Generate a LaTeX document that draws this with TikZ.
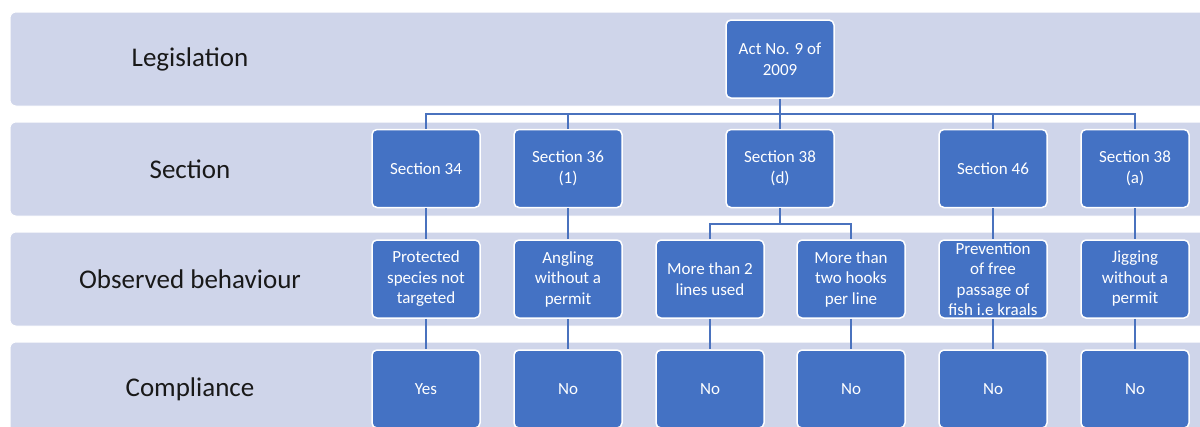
\documentclass[tikz,border=0pt]{standalone}
\usepackage{fontspec}
\setmainfont{Carlito}
\definecolor{bandc}{HTML}{CFD5EA}
\definecolor{boxc}{HTML}{4472C4}
\definecolor{linec}{HTML}{4A72BE}
\begin{document}
\begin{tikzpicture}[x=1pt,y=-1pt,
  band/.style={fill=bandc,draw=white,line width=1pt,rounded corners=6pt},
  rowlabel/.style={text=black!90,font=\fontsize{27}{32}\selectfont,inner sep=0pt},
  boxn/.style={rectangle,rounded corners=5pt,fill=boxc,draw=white,line width=1.5pt,
    minimum width=108pt,minimum height=78pt,inner sep=0pt,text=white,align=center,
    font=\fontsize{17}{20.5}\selectfont},
  conn/.style={draw=linec,line width=1.6pt}]
\useasboundingbox (0,0) rectangle (1200,426);
\begin{scope}
\clip (0,0) rectangle (1200,426);
% bands
\draw[band] (10,12) rectangle (1220,106);
\draw[band] (10,122) rectangle (1220,216);
\draw[band] (10,232) rectangle (1220,326);
\draw[band] (10,342) rectangle (1220,440);
% row labels
\node[rowlabel] (lleg) at (190,59) {Legislation};
\node[rowlabel] (lsec) at (190,169) {Section};
\node[rowlabel] (lobs) at (190,279) {Observed behaviour};
\node[rowlabel] (lcom) at (190,389) {Compliance};
% connectors coordinates
\coordinate (bus) at (780,114);
\coordinate (bus2) at (780,224);
% nodes
\node[boxn] (act) at (780,59) {Act No. 9 of\\2009};
\node[boxn] (s34) at (426,168.5) {Section 34};
\node[boxn] (s36) at (568,168.5) {Section 36\\(1)};
\node[boxn] (s38d) at (780,168.5) {Section 38\\(d)};
\node[boxn] (s46) at (993,168.5) {Section 46};
\node[boxn] (s38a) at (1135,168.5) {Section 38\\(a)};
\node[boxn] (b1) at (426,279) {Protected\\species not\\targeted};
\node[boxn] (b2) at (568,279) {Angling\\without a\\permit};
\node[boxn] (b3) at (710,279) {More than 2\\lines used};
\node[boxn] (b4) at (851,279) {More than\\two hooks\\per line};
\node[boxn] (b5) at (993,279) {Prevention\\of free\\passage of\\fish i.e kraals};
\node[boxn] (b6) at (1135,279) {Jigging\\without a\\permit};
\node[boxn] (c1) at (426,389) {Yes};
\node[boxn] (c2) at (568,389) {No};
\node[boxn] (c3) at (710,389) {No};
\node[boxn] (c4) at (851,389) {No};
\node[boxn] (c5) at (993,389) {No};
\node[boxn] (c6) at (1135,389) {No};
% connectors
\draw[conn] (act.south) -- (bus) -| (s34.north);
\draw[conn] (bus) -| (s36.north);
\draw[conn] (bus) -- (s38d.north);
\draw[conn] (bus) -| (s46.north);
\draw[conn] (bus) -| (s38a.north);
\draw[conn] (s34.south) -- (b1.north);
\draw[conn] (s36.south) -- (b2.north);
\draw[conn] (s38d.south) -- (bus2) -| (b3.north);
\draw[conn] (bus2) -| (b4.north);
\draw[conn] (s46.south) -- (b5.north);
\draw[conn] (s38a.south) -- (b6.north);
\draw[conn] (b1.south) -- (c1.north);
\draw[conn] (b2.south) -- (c2.north);
\draw[conn] (b3.south) -- (c3.north);
\draw[conn] (b4.south) -- (c4.north);
\draw[conn] (b5.south) -- (c5.north);
\draw[conn] (b6.south) -- (c6.north);
\end{scope}
\end{tikzpicture}
\end{document}
